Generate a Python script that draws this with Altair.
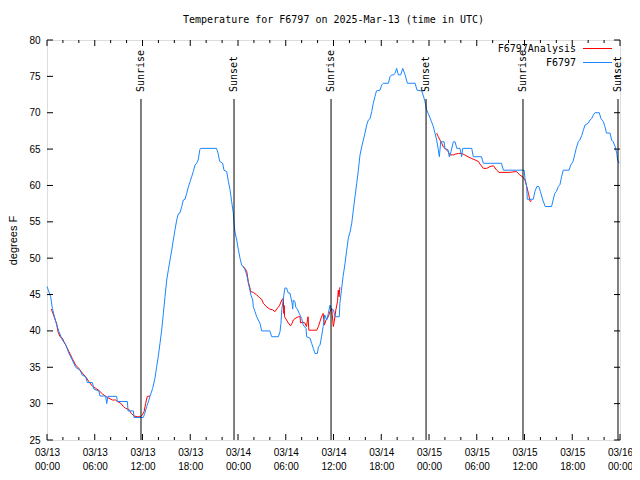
import altair as alt
import pandas as pd

# hours after 2025-03-13 00:00 UTC
blue_hours = [0.0, 0.46, 0.67, 1.09, 1.5, 1.93, 2.35, 2.76, 3.18, 3.6, 4.15, 4.44, 4.86, 5.07, 5.7, 5.9,
              6.53, 6.66, 7.37, 7.5, 7.66, 8.75, 8.84, 10.1, 10.18, 10.85, 10.93, 12.1, 12.3, 12.53, 12.78,
              12.94, 13.28, 13.57, 13.78, 13.98, 14.2, 14.41, 14.62, 14.83, 15.04, 15.25, 15.46, 15.67,
              15.87, 16.08, 16.3, 16.5, 16.7, 16.93, 17.13, 17.34, 17.55, 17.76, 17.97, 18.18, 18.38, 18.6,
              18.8, 19.0, 19.2, 19.3, 21.3, 21.5, 21.7, 22.07, 22.24, 22.58, 22.8, 23.0, 23.2, 23.41, 23.5,
              23.62, 23.84, 24.04, 24.25, 24.46, 24.67, 24.88, 25.1, 25.3, 25.5, 25.63, 25.85, 25.93, 26.14,
              26.35, 26.55, 26.76, 26.98, 28.0, 28.24, 29.07, 29.28, 29.4, 29.5, 29.7, 29.9, 30.1, 30.32,
              30.53, 30.66, 30.8, 30.87, 30.95, 31.16, 31.25, 31.5, 31.7, 32.0, 32.2, 32.55, 32.62, 33.05,
              33.25, 33.46, 33.68, 33.97, 34.1, 34.3, 34.5, 34.7, 34.9, 35.15, 35.35, 35.56, 35.7, 36.0,
              36.2, 36.73, 36.8, 37.0, 37.2, 37.45, 37.66, 37.87, 38.08, 38.29, 38.49, 38.7, 38.92, 39.12,
              39.33, 39.54, 39.75, 39.96, 40.17, 40.38, 40.6, 40.8, 41.0, 41.2, 41.4, 41.85, 42.05, 42.26,
              42.9, 43.1, 43.3, 43.5, 43.73, 43.94, 44.15, 44.45, 44.7, 45.0, 45.28, 46.25, 46.5, 47.08,
              47.3, 47.5, 47.7, 47.9, 48.13, 48.3, 48.54, 48.75, 48.96, 49.17, 49.3, 49.47, 49.9, 50.0,
              50.4, 50.55, 50.77, 51.05, 51.27, 51.5, 51.9, 52.1, 52.24, 53.37, 53.57, 54.6, 54.83, 57.1,
              57.35, 59.95, 60.06, 60.28, 60.35, 61.1, 61.3, 61.55, 61.8, 62.0, 62.3, 62.6, 63.4, 63.6,
              63.8, 64.0, 64.25, 64.45, 64.66, 64.87, 65.6, 65.8, 66.1, 66.3, 66.5, 66.75, 66.95, 67.2,
              67.4, 67.6, 68.0, 68.23, 68.45, 68.65, 68.85, 69.4, 69.6, 69.9, 70.1, 70.3, 70.75, 70.95,
              71.15, 71.4, 71.6, 71.7, 71.9]
blue_temps = [46.1, 44.7, 43.1, 41.3, 39.9, 38.75, 38.1, 36.9, 36.0, 35.0, 34.6, 33.9, 33.7, 32.9, 32.9, 32.0,
              31.7, 31.05, 31.05, 30.0, 31.0, 31.0, 30.3, 30.3, 29.0, 29.0, 28.1, 28.1, 28.7, 29.6, 30.4,
              31.0, 32.1, 33.5, 35.1, 36.45, 38.3, 40.1, 42.4, 44.7, 47.0, 48.4, 49.75, 51.1,
              52.5, 53.9, 55.25, 56.1, 56.2, 57.1, 58.0, 58.1, 58.9, 59.8, 60.5, 61.2, 61.9, 62.8,
              63.05, 63.5, 64.9, 65.1, 65.1, 64.4, 63.3, 63.05, 62.1, 61.9, 60.5, 59.4, 57.8, 56.2, 54.8,
              53.6, 52.5, 51.2, 50.0, 49.05, 48.8, 48.4, 47.7, 46.55, 45.6, 44.9, 44.25, 43.3, 42.65,
              41.95, 41.5, 41.05, 40.0, 40.0, 39.2, 39.2, 39.9, 41.05, 42.9, 44.5, 45.9, 45.9, 45.2,
              45.2, 44.5, 43.8, 43.0, 44.25, 44.0, 43.3, 42.9, 42.4, 41.7, 40.8, 40.35, 39.2, 39.0,
              38.3, 37.6, 36.9, 36.9, 37.8, 38.05, 39.2, 40.6, 42.2, 41.5, 42.4, 43.55, 42.9, 42.9,
              41.95, 41.95, 43.8, 45.6, 47.45, 49.3, 51.1, 52.8, 53.6, 54.8, 56.6, 58.45, 60.3, 62.1,
              64.2, 65.3, 66.25, 67.2, 68.3, 69.0, 69.2, 70.15, 71.3, 72.2, 73.0, 73.1, 73.8, 74.05,
              74.05, 74.95, 75.2, 75.2, 75.4, 76.1, 75.2, 75.2, 76.1, 75.2, 74.05, 74.05, 73.1, 73.0,
              72.3, 71.5, 70.4, 69.9, 69.3, 68.8, 68.1, 67.2, 66.25, 64.9, 63.95, 66.0, 66.0, 65.1,
              64.9, 63.95, 64.65, 66.0, 66.0, 65.1, 65.1, 63.95, 65.1, 65.1, 63.95, 63.95, 63.05, 63.05,
              62.1, 62.1, 61.0, 59.85, 58.1, 58.1, 59.15, 59.85, 59.85, 59.15, 58.0, 57.1, 57.1, 58.0,
              58.9, 59.15, 59.85, 60.1, 61.2, 62.1, 62.1, 62.8, 63.3, 64.2, 65.1, 66.0, 66.25, 66.9,
              67.6, 68.3, 68.55, 69.0, 69.2, 69.7, 70.0, 70.0, 69.2, 68.8, 68.1, 67.2, 67.2, 66.25,
              66.0, 65.3, 64.4, 63.5, 63.05]

red_hours = [0.55, 0.88, 1.2, 1.38, 1.63, 1.93, 2.14, 2.47, 2.76, 3.18, 3.6, 4.0, 4.44, 4.86, 5.28, 5.7,
             6.12, 6.53, 6.95, 7.37, 7.79, 8.2, 8.63, 8.84, 9.26, 9.6, 9.89, 10.3, 10.6, 10.93, 11.35,
             11.77, 11.98, 12.2, 12.4, 12.6, 12.94,
             24.58, 24.88, 25.1, 25.3, 25.5, 25.6, 25.93, 26.35, 26.76, 26.98, 27.18, 27.6, 28.0, 28.36,
             28.65, 28.86, 29.2, 29.5, 29.7, 29.75, 29.8, 29.85, 30.1, 30.32, 30.6, 30.8, 30.95, 31.16,
             31.58, 31.8, 31.85, 32.13, 32.4, 32.6, 32.8, 32.9, 33.9, 34.1, 34.3, 34.5, 34.7, 34.85,
             35.06, 35.35, 35.56, 35.77, 35.98, 36.06, 36.3, 36.5, 36.6, 36.7, 36.8,
             48.96, 49.17, 49.38, 49.6, 49.8, 50.0, 50.4, 50.64, 51.05, 51.27, 51.7, 52.1, 52.5, 52.9,
             53.37, 53.8, 54.2, 54.4, 54.83, 55.25, 55.67, 56.1, 56.5, 56.8, 58.2, 58.8, 59.0, 59.4,
             59.85, 60.06, 60.28, 60.5, 60.7, 60.9]
red_temps = [43.0, 42.0, 41.05, 39.9, 39.2, 39.0, 38.5, 37.8, 37.15, 36.2, 35.3, 34.85, 34.2, 33.7, 33.0, 32.4,
             32.1, 31.8, 31.35, 31.0, 30.75, 30.5, 30.5, 30.3, 30.05, 29.6, 29.35, 29.2, 28.65, 28.3, 28.2,
             28.2, 28.45, 28.9, 30.05, 31.0, 31.05,
             48.9, 48.6, 48.15, 46.75, 45.9, 45.4, 45.3, 44.95, 44.5, 44.35, 43.8, 43.3, 43.0, 42.9,
             42.65, 43.0, 43.45, 44.25, 44.5, 42.4, 43.5, 41.95, 41.5, 41.1, 40.7, 41.05, 41.5, 41.7,
             41.95, 41.95, 41.1, 41.2, 41.1, 40.6, 41.95, 40.1, 40.1, 40.6, 41.3, 41.95, 42.4, 40.8,
             41.5, 41.95, 42.65, 43.1, 40.6, 41.05, 42.9, 44.0, 45.6, 44.7, 46.0,
             67.2, 66.7, 66.25, 65.8, 65.3, 65.1, 64.65, 64.2, 64.2, 64.3, 64.4, 64.4, 64.2, 63.95,
             63.7, 63.5, 63.3, 62.95, 62.35, 62.35, 62.6, 62.7, 62.1, 61.8, 61.8, 61.9, 61.9, 61.45,
             61.1, 60.75, 59.85, 58.9, 57.8, 57.9]
red_segments = [1] * 37 + [2] * 53 + [3] * 34

event_hours = [11.81, 23.5, 35.69, 47.63, 59.81, 71.75]
event_labels = ["Sunrise", "Sunset", "Sunrise", "Sunset", "Sunrise", "Sunset"]

x_label_hours = list(range(0, 73, 6))
x_minor_hours = [h for h in range(0, 73, 2) if h % 6 != 0]
y_tick_values = list(range(25, 81, 5))

legend_labels = ["F6797Analysis", "F6797"]
legend_colors = ["#ff0000", "#1a86ff"]

FONT = "DejaVu Sans Mono"

blue_df = pd.DataFrame({"hour": blue_hours, "temp": blue_temps})
red_df = pd.DataFrame({"hour": red_hours, "temp": red_temps, "seg": red_segments})
event_df = pd.DataFrame({"hour": event_hours, "label": event_labels})
major_df = pd.DataFrame({"hour": x_label_hours})
minor_df = pd.DataFrame({"hour": x_minor_hours})
ytick_df = pd.DataFrame({"temp": y_tick_values})

label_expr = ("['03/' + (13 + floor(datum.value / 24)), "
              "(datum.value % 24 < 10 ? '0' : '') + (datum.value % 24) + ':00']")

x_enc = alt.X("hour:Q", scale=alt.Scale(domain=[0, 72], nice=False, zero=False),
              axis=alt.Axis(values=x_label_hours, labelExpr=label_expr, ticks=False, tickSize=0,
                            domain=False, grid=False, title=None, labelPadding=7,
                            labelLineHeight=14, labelFlush=False, labelOverlap=False))
y_enc = alt.Y("temp:Q", scale=alt.Scale(domain=[25, 80], nice=False, zero=False),
              axis=alt.Axis(values=y_tick_values, ticks=False, tickSize=0, domain=False, grid=False,
                            title="degrees F", labelPadding=7, titlePadding=10,
                            titleFontWeight="normal"))

red = alt.Chart(red_df).mark_line(color=legend_colors[0], strokeWidth=1).encode(
    x=x_enc, y=y_enc, detail="seg:N", order="hour:Q")
blue = alt.Chart(blue_df).mark_line(color=legend_colors[1], strokeWidth=1).encode(
    x=x_enc, y=y_enc, order="hour:Q")

event_rules = alt.Chart(event_df).mark_rule(color="black", strokeWidth=1).encode(
    x=x_enc, y=alt.value(59), y2=alt.value(400))
event_text = alt.Chart(event_df).mark_text(angle=270, align="left", baseline="middle",
                                           font=FONT, fontSize=10, color="black").encode(
    x=x_enc, y=alt.value(52), text="label:N")

major_bot = alt.Chart(major_df).mark_rule(color="black").encode(x=x_enc, y=alt.value(394), y2=alt.value(400))
major_top = alt.Chart(major_df).mark_rule(color="black").encode(x=x_enc, y=alt.value(0), y2=alt.value(6))
minor_bot = alt.Chart(minor_df).mark_rule(color="black").encode(x=x_enc, y=alt.value(397), y2=alt.value(400))
minor_top = alt.Chart(minor_df).mark_rule(color="black").encode(x=x_enc, y=alt.value(0), y2=alt.value(3))
ytick_left = alt.Chart(ytick_df).mark_rule(color="black").encode(y=y_enc, x=alt.value(0), x2=alt.value(6))
ytick_right = alt.Chart(ytick_df).mark_rule(color="black").encode(y=y_enc, x=alt.value(567), x2=alt.value(573))

leg_layers = []
for i, (lab, col) in enumerate(zip(legend_labels, legend_colors)):
    ly = 8.5 + 14 * i
    leg_layers.append(alt.Chart(pd.DataFrame({"label": [lab]})).mark_text(
        align="right", baseline="middle", font=FONT, fontSize=10, color="black").encode(
        x=alt.value(529), y=alt.value(ly), text="label:N"))
    leg_layers.append(alt.Chart(pd.DataFrame({"label": [lab]})).mark_rule(color=col, strokeWidth=1).encode(
        x=alt.value(536), x2=alt.value(565), y=alt.value(ly)))

chart = alt.layer(
    red, blue, event_rules, event_text, major_bot, major_top, minor_bot, minor_top,
    ytick_left, ytick_right, *leg_layers
).properties(
    width=573, height=400,
    autosize=alt.AutoSizeParams(type="none"),
    padding={"left": 39, "top": 32, "right": 12, "bottom": 32},
    title=alt.TitleParams("Temperature for F6797 on 2025-Mar-13 (time in UTC)", font=FONT,
                          fontSize=10, fontWeight="normal", anchor="middle", baseline="middle",
                          offset=5, frame="group", color="black"),
).configure_view(
    stroke="black", strokeWidth=1
).configure_axis(
    labelFont=FONT, labelFontSize=10, labelColor="black", titleFont=FONT, titleFontSize=10,
    titleColor="black"
).configure(background="white")

chart.save("out.html", embed_options={"renderer": "svg", "actions": False})
